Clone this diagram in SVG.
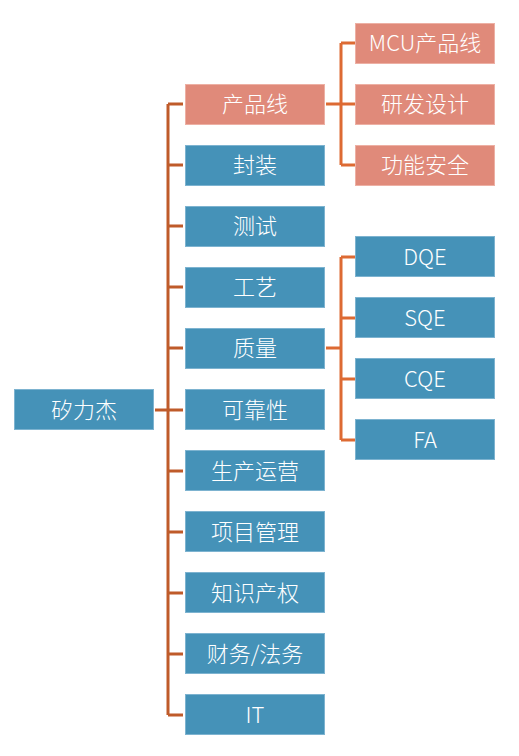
<svg xmlns="http://www.w3.org/2000/svg" width="519" height="756" viewBox="0 0 519 756">
<style>
.b{fill:#4592B8;stroke:#7DB3D0;stroke-width:1}
.s{fill:#E08A7A;stroke:#EDB0A4;stroke-width:1}
text{fill:#fff;font-family:"Noto Sans CJK SC","Noto Sans",sans-serif;font-size:22px;font-weight:300;text-anchor:middle;dominant-baseline:central}
.m{fill:none;stroke:#BF5B2A;stroke-width:3}
.o{fill:none;stroke:#DD6A33;stroke-width:3}
</style>
<rect width="519" height="756" fill="#fff"/>
<g id="connectors">
<path class="m" d="M155 410H168M168 104V715M168 104H183M168 165H183M168 226H183M168 287H183M168 348H183M168 410H183M168 471H183M168 532H183M168 593H183M168 654H183M168 715H183"/>
<path class="o" d="M326 104H341M341 43V165M341 43H355M341 104H355M341 165H355"/>
<path class="o" d="M326 348H341M341 257V440M341 257H355M341 318H355M341 379H355M341 440H355"/>
</g>
<g id="n-root"><rect class="b" x="14.5" y="389.5" width="139" height="40"/><text x="84" y="407.5">矽力杰</text></g>
<g id="n-cpx"><rect class="s" x="185.5" y="84.5" width="139" height="40"/><text x="255" y="102">产品线</text></g>
<g id="n-fz"><rect class="b" x="185.5" y="145.5" width="139" height="40"/><text x="255" y="163">封装</text></g>
<g id="n-cs"><rect class="b" x="185.5" y="206.5" width="139" height="40"/><text x="255" y="224">测试</text></g>
<g id="n-gy"><rect class="b" x="185.5" y="267.5" width="139" height="40"/><text x="255" y="285">工艺</text></g>
<g id="n-zl"><rect class="b" x="185.5" y="328.5" width="139" height="40"/><text x="255" y="346">质量</text></g>
<g id="n-kkx"><rect class="b" x="185.5" y="389.5" width="139" height="40"/><text x="255" y="407.5">可靠性</text></g>
<g id="n-scyy"><rect class="b" x="185.5" y="450.5" width="139" height="40"/><text x="255" y="468.5">生产运营</text></g>
<g id="n-xmgl"><rect class="b" x="185.5" y="511.5" width="139" height="40"/><text x="255" y="529.5">项目管理</text></g>
<g id="n-zscq"><rect class="b" x="185.5" y="572.5" width="139" height="40"/><text x="255" y="590.5">知识产权</text></g>
<g id="n-cw"><rect class="b" x="185.5" y="633.5" width="139" height="40"/><text x="255" y="651.5">财务/法务</text></g>
<g id="n-it"><rect class="b" x="185.5" y="694.5" width="139" height="40"/><text x="255" y="712.5">IT</text></g>
<g id="n-mcu"><rect class="s" x="355.5" y="23.5" width="139" height="40"/><text x="425" y="41">MCU产品线</text></g>
<g id="n-yfsj"><rect class="s" x="355.5" y="84.5" width="139" height="40"/><text x="425" y="102">研发设计</text></g>
<g id="n-gnaq"><rect class="s" x="355.5" y="145.5" width="139" height="40"/><text x="425" y="163">功能安全</text></g>
<g id="n-dqe"><rect class="b" x="355.5" y="236.5" width="139" height="40"/><text x="425" y="254.5">DQE</text></g>
<g id="n-sqe"><rect class="b" x="355.5" y="297.5" width="139" height="40"/><text x="425" y="315.5">SQE</text></g>
<g id="n-cqe"><rect class="b" x="355.5" y="358.5" width="139" height="40"/><text x="425" y="376.5">CQE</text></g>
<g id="n-fa"><rect class="b" x="355.5" y="419.5" width="139" height="40"/><text x="425" y="437.5">FA</text></g>
</svg>
